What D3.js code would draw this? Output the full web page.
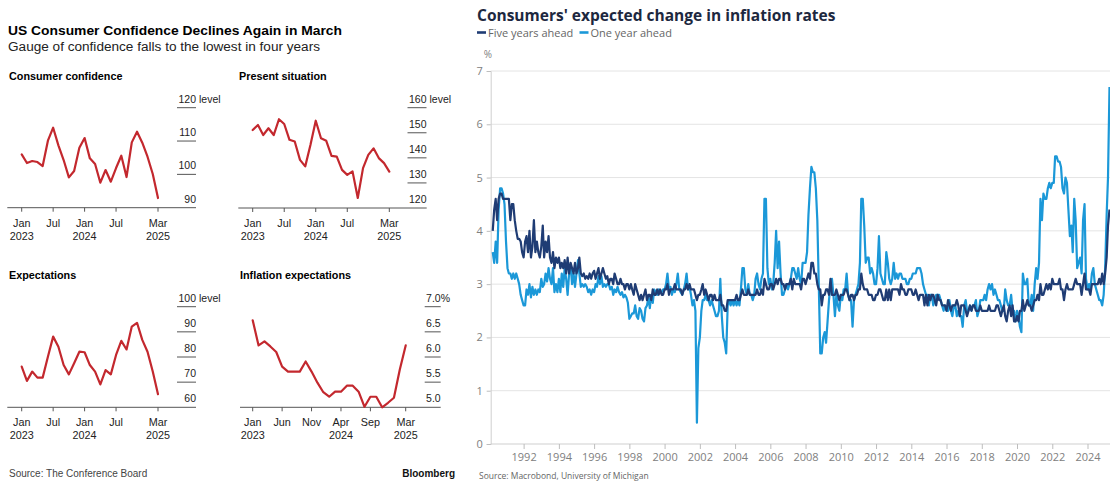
<!DOCTYPE html>
<html>
<head>
<meta charset="utf-8">
<script src="https://cdn.jsdelivr.net/npm/d3@7"></script>
<style>
  html, body { margin: 0; padding: 0; background: #fff; }
  svg { display: block; }
</style>
</head>
<body>
<svg id="chart" width="1110" height="483"></svg>
<script>
// ---------- Conference Board indexes, monthly Jan 2023 – Mar 2025 ----------
const consumerConfidence = [106.0, 103.4, 104.0, 103.7, 102.5, 110.1, 114.0, 108.7, 104.3, 99.1, 101.0, 108.0,
  110.9, 104.8, 103.1, 97.5, 101.3, 97.8, 101.9, 105.6, 99.2, 109.6, 112.8, 109.5,
  105.3, 100.1, 92.9];
const presentSituation = [151.1, 153.1, 149.1, 151.8, 149.1, 155.4, 153.5, 147.2, 146.5, 139.2, 136.6, 145.2,
  154.8, 147.8, 146.8, 140.8, 140.5, 135.2, 133.2, 134.6, 124.0, 135.9, 141.2, 143.8,
  139.9, 137.9, 134.5];
const expectations = [76.2, 70.5, 74.2, 71.8, 71.8, 80.1, 88.1, 84.1, 76.8, 73.1, 77.5, 82.1,
  81.9, 76.8, 74.2, 69.1, 74.8, 73.1, 80.8, 86.4, 83.0, 92.1, 93.6, 86.8,
  82.1, 74.2, 65.2];
const inflationExpectations = [6.73, 6.23, 6.31, 6.21, 6.10, 5.81, 5.71, 5.71, 5.71, 5.91, 5.71, 5.49,
  5.30, 5.21, 5.31, 5.31, 5.43, 5.43, 5.31, 5.01, 5.21, 5.21, 5.00, 5.09,
  5.19, 5.75, 6.23];

// x-axis ticks of the small panels (month index from Jan 2023) and their labels
const halfYearTicks = [0, 6, 12, 18, 26];
const halfYearLabels = [["Jan", "2023"], ["Jul", ""], ["Jan", "2024"], ["Jul", ""], ["Mar", "2025"]];
const fiveMonthTicks = [0, 5, 10, 15, 20, 26];
const fiveMonthLabels = [["Jan", "2023"], ["Jun", ""], ["Nov", ""], ["Apr", "2024"], ["Sep", ""], ["Mar", "2025"]];

// y-axis ticks of the small panels
const confidenceTicks = [90, 100, 110, 120];
const presentTicks = [120, 130, 140, 150, 160];
const expectationTicks = [60, 70, 80, 90, 100];
const inflationTicks = [5.0, 5.5, 6.0, 6.5, 7.0];

// ---------- University of Michigan survey, monthly from Apr 1990 to Apr 2025 ----------
const fiveYearsAhead = [
  /*1990*/ 4.0, 4.4, 4.6, 4.2, 4.6, 4.7, 4.7, 4.6, 4.6,
  /*1991*/ 4.6, 4.6, 4.6, 4.2, 4.5, 4.5, 4.2, 4.0, 3.85, 3.85, 3.8, 3.6,
  /*1992*/ 3.5, 3.8, 3.9, 3.6, 4.0, 3.5, 3.7, 4.2, 3.6, 3.8, 3.6, 3.5,
  /*1993*/ 3.7, 4.1, 3.5, 3.8, 3.6, 3.9, 3.5, 3.4, 3.6, 3.3, 3.5, 3.4,
  /*1994*/ 3.5, 3.3, 3.4, 3.3, 3.45, 3.2, 3.5, 3.2, 3.4, 3.3, 3.2, 3.4,
  /*1995*/ 3.2, 3.3, 3.5, 3.2, 3.15, 3.2, 3.1, 3.15, 3.1, 3.2, 3.1, 3.2,
  /*1996*/ 3.25, 3.1, 3.2, 3.3, 3.1, 3.2, 3.3, 3.2, 3.1, 3.15, 3.0, 3.1,
  /*1997*/ 3.1, 3.0, 3.2, 3.1, 3.0, 3.0, 3.1, 3.0, 3.0, 2.9, 3.0, 3.0,
  /*1998*/ 2.9, 3.0, 2.9, 2.8, 3.0, 2.9, 2.8, 2.7, 2.8, 2.7, 2.8, 2.9,
  /*1999*/ 2.7, 2.8, 2.8, 2.7, 2.9, 2.8, 2.8, 2.9, 2.8, 2.9, 2.8, 2.8,
  /*2000*/ 2.9, 2.9, 3.0, 2.8, 2.9, 2.9, 2.9, 3.0, 2.9, 2.9, 2.9, 2.9,
  /*2001*/ 2.8, 2.9, 2.9, 3.0, 2.9, 3.0, 2.9, 2.9, 2.9, 2.8, 2.7, 2.8,
  /*2002*/ 2.8, 2.9, 3.0, 2.8, 2.9, 2.8, 2.7, 2.8, 2.8, 2.7, 2.8, 2.7,
  /*2003*/ 2.7, 2.7, 2.8, 2.6, 2.6, 2.5, 2.5, 2.7, 2.7, 2.7, 2.7, 2.7,
  /*2004*/ 2.7, 2.8, 2.7, 2.7, 2.8, 2.9, 2.8, 2.8, 2.8, 2.9, 2.8, 2.8,
  /*2005*/ 2.8, 2.8, 2.8, 2.9, 2.8, 2.8, 2.9, 2.8, 3.1, 3.0, 2.9, 2.9,
  /*2006*/ 3.0, 3.0, 2.9, 3.0, 3.1, 3.0, 3.1, 3.1, 3.0, 3.0, 2.9, 3.0,
  /*2007*/ 3.0, 3.0, 3.1, 2.9, 3.1, 3.0, 3.0, 3.0, 3.0, 2.9, 3.1, 3.1,
  /*2008*/ 3.0, 3.1, 3.2, 3.1, 3.4, 3.4, 3.2, 3.2, 3.0, 2.9, 2.9, 2.6,
  /*2009*/ 2.8, 2.8, 2.9, 2.9, 2.8, 3.1, 2.8, 2.8, 2.8, 2.9, 2.8, 2.7,
  /*2010*/ 2.8, 2.8, 2.8, 2.9, 2.9, 2.8, 2.7, 2.8, 2.8, 2.7, 2.8, 2.8,
  /*2011*/ 2.9, 2.9, 3.2, 3.0, 2.9, 2.9, 2.9, 2.8, 2.8, 2.8, 2.7, 2.7,
  /*2012*/ 2.8, 2.8, 2.9, 2.9, 2.8, 2.7, 2.7, 2.9, 2.7, 2.9, 2.7, 2.9,
  /*2013*/ 2.9, 2.9, 2.9, 2.9, 2.8, 3.0, 2.9, 2.9, 2.8, 2.8, 2.9, 2.9,
  /*2014*/ 2.9, 2.8, 2.8, 2.9, 2.8, 2.7, 2.8, 2.8, 2.8, 2.6, 2.8, 2.6,
  /*2015*/ 2.8, 2.7, 2.8, 2.8, 2.7, 2.6, 2.8, 2.7, 2.7, 2.6, 2.6, 2.6,
  /*2016*/ 2.5, 2.7, 2.6, 2.5, 2.6, 2.6, 2.6, 2.7, 2.6, 2.4, 2.6, 2.6,
  /*2017*/ 2.6, 2.5, 2.4, 2.5, 2.6, 2.5, 2.6, 2.6, 2.5, 2.5, 2.5, 2.6,
  /*2018*/ 2.5, 2.5, 2.5, 2.5, 2.5, 2.6, 2.5, 2.5, 2.5, 2.5, 2.6, 2.6,
  /*2019*/ 2.5, 2.4, 2.5, 2.6, 2.4, 2.3, 2.5, 2.6, 2.4, 2.6, 2.3, 2.3,
  /*2020*/ 2.4, 2.3, 2.5, 2.5, 2.7, 2.5, 2.6, 2.7, 2.6, 2.6, 2.5, 2.6,
  /*2021*/ 2.7, 2.7, 2.8, 2.7, 3.0, 2.8, 2.8, 2.9, 3.0, 2.9, 3.0, 2.9,
  /*2022*/ 3.1, 3.0, 3.0, 3.0, 3.0, 3.1, 2.9, 2.9, 2.7, 2.9, 3.0, 2.9,
  /*2023*/ 2.9, 2.9, 2.9, 3.0, 3.1, 3.0, 3.0, 3.0, 2.8, 3.0, 3.2, 2.9,
  /*2024*/ 2.9, 2.9, 2.8, 3.0, 3.0, 3.0, 3.0, 3.0, 3.1, 3.0, 3.2, 3.0,
  /*2025*/ 3.2, 3.5, 4.1, 4.4
];
const oneYearAhead = [
  /*1990*/ 3.6, 3.4, 3.8, 3.4, 4.4, 4.8, 4.8, 4.7, 4.5,
  /*1991*/ 3.8, 3.3, 3.2, 3.2, 3.1, 3.2, 3.1, 3.2, 3.1, 3.0, 2.8, 2.7,
  /*1992*/ 2.6, 2.6, 2.9, 2.8, 3.0, 2.75, 2.95, 2.8, 2.9, 2.8, 2.9, 2.85,
  /*1993*/ 3.1, 2.95, 3.0, 3.2, 3.05, 3.3, 3.1, 3.0, 3.3, 2.85, 3.0, 2.85,
  /*1994*/ 3.1, 2.85, 3.2, 2.95, 3.3, 3.1, 2.8, 3.2, 3.35, 3.0, 3.2, 2.95,
  /*1995*/ 3.2, 3.45, 3.2, 2.95, 3.0, 2.95, 3.0, 2.95, 2.85, 2.9, 2.8, 2.9,
  /*1996*/ 2.85, 3.0, 2.95, 3.15, 3.0, 3.15, 2.95, 3.0, 2.95, 3.0, 3.0, 2.9,
  /*1997*/ 2.95, 2.8, 2.9, 2.85, 2.95, 2.85, 2.8, 2.85, 2.75, 2.8, 2.75, 2.65,
  /*1998*/ 2.35, 2.4, 2.45, 2.45, 2.6, 2.4, 2.35, 2.55, 2.5, 2.35, 2.3, 2.55,
  /*1999*/ 2.6, 2.75, 2.55, 2.8, 2.65, 2.9, 2.85, 2.8, 2.9, 2.85, 2.85, 2.9,
  /*2000*/ 2.9, 3.0, 3.2, 2.9, 2.95, 2.8, 2.9, 2.85, 3.0, 3.2, 2.9, 2.85,
  /*2001*/ 2.8, 2.9, 3.0, 3.2, 2.9, 2.95, 2.8, 2.6, 2.7, 2.5, 0.4, 1.8,
  /*2002*/ 2.0, 2.5, 2.7, 2.7, 2.8, 2.7, 2.7, 2.6, 2.7, 2.6, 2.5, 2.4,
  /*2003*/ 2.4, 2.5, 3.1, 2.4, 2.0, 1.9, 1.7, 2.6, 2.7, 2.6, 2.7, 2.6,
  /*2004*/ 2.7, 2.6, 2.7, 2.6, 2.9, 3.3, 3.3, 2.9, 2.8, 3.0, 2.8, 2.8,
  /*2005*/ 2.7, 2.8, 3.1, 3.2, 3.0, 2.9, 3.1, 3.2, 4.6, 4.6, 3.3, 3.0,
  /*2006*/ 3.1, 2.9, 3.0, 3.4, 4.0, 3.3, 3.8, 3.2, 2.8, 2.8, 2.9, 3.0,
  /*2007*/ 2.9, 3.0, 3.1, 3.3, 3.3, 3.2, 3.1, 3.3, 3.1, 3.0, 3.4, 3.4,
  /*2008*/ 3.4, 3.6, 4.3, 4.8, 5.2, 5.1, 5.1, 4.8, 4.2, 3.0, 1.7, 1.7,
  /*2009*/ 2.0, 2.1, 1.9, 2.3, 2.7, 3.0, 3.1, 2.8, 2.4, 2.8, 2.6, 2.5,
  /*2010*/ 2.8, 2.7, 2.9, 2.9, 3.2, 2.8, 2.7, 2.7, 2.2, 2.7, 2.8, 2.9,
  /*2011*/ 3.0, 3.4, 4.6, 4.6, 4.1, 3.4, 3.5, 3.5, 3.2, 3.3, 3.2, 3.0,
  /*2012*/ 3.0, 3.3, 3.9, 3.2, 3.1, 3.0, 3.0, 3.6, 3.4, 3.1, 3.0, 3.1,
  /*2013*/ 3.4, 3.1, 3.2, 3.1, 3.2, 3.2, 3.1, 3.1, 3.1, 3.0, 3.0, 3.1,
  /*2014*/ 3.1, 3.2, 3.2, 3.2, 3.3, 3.3, 3.3, 3.2, 3.0, 2.9, 2.8, 2.8,
  /*2015*/ 2.6, 2.8, 2.8, 2.6, 2.7, 2.8, 2.8, 2.8, 2.7, 2.6, 2.5, 2.6,
  /*2016*/ 2.5, 2.5, 2.7, 2.5, 2.4, 2.6, 2.6, 2.4, 2.5, 2.4, 2.4, 2.2,
  /*2017*/ 2.6, 2.7, 2.5, 2.5, 2.6, 2.5, 2.6, 2.6, 2.7, 2.4, 2.5, 2.7,
  /*2018*/ 2.7, 2.7, 2.8, 2.7, 2.9, 3.0, 2.9, 3.0, 2.8, 2.9, 2.8, 2.7,
  /*2019*/ 2.7, 2.6, 2.5, 2.5, 2.9, 2.7, 2.6, 2.6, 2.8, 2.5, 2.5, 2.3,
  /*2020*/ 2.5, 2.4, 2.2, 2.1, 3.2, 3.0, 3.0, 3.1, 2.6, 2.6, 2.8, 2.5,
  /*2021*/ 3.0, 3.3, 3.1, 3.4, 4.6, 4.2, 4.7, 4.6, 4.6, 4.8, 4.9, 4.8,
  /*2022*/ 4.9, 4.9, 5.4, 5.4, 5.3, 5.3, 5.2, 4.8, 4.7, 5.0, 4.9, 4.4,
  /*2023*/ 3.9, 4.1, 3.6, 4.6, 4.2, 3.3, 3.4, 3.5, 3.2, 4.2, 4.5, 3.1,
  /*2024*/ 2.9, 3.0, 2.9, 3.2, 3.3, 3.0, 2.9, 2.8, 2.7, 2.7, 2.6, 2.8,
  /*2025*/ 3.3, 4.3, 5.0, 6.7
];
const surveyDates = oneYearAhead.map((_, i) => new Date(1990, 3 + i, 1));
const surveyYTicks = [0, 1, 2, 3, 4, 5, 6, 7];
const surveyXTicks = d3.range(1992, 2025, 2).map(y => new Date(y, 0, 1));

// ---------- styling ----------
const svg = d3.select("#chart");
const RED = "#c3282e";
const NAVY = "#1f3c74";
const SKY = "#1b98d8";
const FONT_L = "'Liberation Sans', Arial, sans-serif";
const FONT_R = "'Open Sans', 'Noto Sans', sans-serif";

// ======================= left: Bloomberg small multiples =======================
const left = svg.append("g").attr("font-family", FONT_L);

left.append("text").attr("x", 8).attr("y", 35)
  .attr("font-size", 13.5).attr("font-weight", 700).attr("fill", "#000")
  .attr("textLength", 334).attr("lengthAdjust", "spacingAndGlyphs")
  .text("US Consumer Confidence Declines Again in March");
left.append("text").attr("x", 8).attr("y", 51)
  .attr("font-size", 12.5).attr("fill", "#222")
  .attr("textLength", 312).attr("lengthAdjust", "spacingAndGlyphs")
  .text("Gauge of confidence falls to the lowest in four years");

const panels = [
  { title: "Consumer confidence", values: consumerConfidence, ticks: confidenceTicks, unit: "level",
    fmt: d3.format("d"), domain: [90, 120], tx: 9, ty: 80, ax0: 7.3, ax1: 196, xa: 21.7, xb: 158,
    yTop: 107.7, yBot: 207.7, lx: 196, dash: 19, xTicks: halfYearTicks, xLabels: halfYearLabels },
  { title: "Present situation", values: presentSituation, ticks: presentTicks, unit: "level",
    fmt: d3.format("d"), domain: [120, 160], tx: 239, ty: 80, ax0: 238.3, ax1: 426.7, xa: 252.7, xb: 389.3,
    yTop: 107.7, yBot: 208, lx: 426.5, dash: 19, xTicks: halfYearTicks, xLabels: halfYearLabels },
  { title: "Expectations", values: expectations, ticks: expectationTicks, unit: "level",
    fmt: d3.format("d"), domain: [60, 100], tx: 9, ty: 279, ax0: 7.3, ax1: 196, xa: 21.7, xb: 158,
    yTop: 306.7, yBot: 407.3, lx: 196, dash: 19, xTicks: halfYearTicks, xLabels: halfYearLabels },
  { title: "Inflation expectations", values: inflationExpectations, ticks: inflationTicks, unit: "%",
    fmt: d3.format(".1f"), domain: [5, 7], tx: 240, ty: 279, ax0: 240, ax1: 440.7, xa: 252.7, xb: 405.7,
    yTop: 306.7, yBot: 407.3, lx: 440.7, dash: 16, xTicks: fiveMonthTicks, xLabels: fiveMonthLabels }
];

panels.forEach(p => {
  const g = left.append("g");
  const x = d3.scaleLinear().domain([0, p.values.length - 1]).range([p.xa, p.xb]);
  const y = d3.scaleLinear().domain(p.domain).range([p.yBot, p.yTop]);

  g.append("text").attr("x", p.tx).attr("y", p.ty)
    .attr("font-size", 10.8).attr("font-weight", 700).attr("fill", "#000").text(p.title);

  // value scale on the right: short rules with the label sitting above each
  p.ticks.forEach((t, i) => {
    if (i > 0) {
      g.append("line").attr("x1", p.lx - p.dash).attr("x2", p.lx)
        .attr("y1", y(t)).attr("y2", y(t)).attr("stroke", "#555").attr("stroke-width", 1);
    }
    g.append("text").attr("x", p.lx).attr("y", y(t) - 5)
      .attr("font-size", 10.5).attr("fill", "#222").attr("text-anchor", "end").text(p.fmt(t));
    if (i === p.ticks.length - 1) {
      g.append("text").attr("x", p.lx + (p.unit === "%" ? 0 : 3)).attr("y", y(t) - 5)
        .attr("font-size", 10.5).attr("fill", "#222").text(p.unit);
    }
  });

  // baseline and month ticks
  g.append("line").attr("x1", p.ax0).attr("x2", p.ax1)
    .attr("y1", p.yBot).attr("y2", p.yBot).attr("stroke", "#555").attr("stroke-width", 1);
  p.xTicks.forEach((m, i) => {
    g.append("line").attr("x1", x(m)).attr("x2", x(m))
      .attr("y1", p.yBot).attr("y2", p.yBot + 4).attr("stroke", "#555").attr("stroke-width", 1);
    const [mon, yr] = p.xLabels[i];
    g.append("text").attr("x", x(m)).attr("y", p.yBot + 19).attr("text-anchor", "middle")
      .attr("font-size", 10.8).attr("fill", "#222").text(mon);
    if (yr) {
      g.append("text").attr("x", x(m)).attr("y", p.yBot + 32).attr("text-anchor", "middle")
        .attr("font-size", 10.8).attr("fill", "#222").text(yr);
    }
  });

  g.append("path").datum(p.values)
    .attr("fill", "none").attr("stroke", RED).attr("stroke-width", 2.2)
    .attr("stroke-linejoin", "round").attr("stroke-linecap", "round")
    .attr("d", d3.line().x((d, i) => x(i)).y(d => y(d)));
});

left.append("text").attr("x", 9).attr("y", 477)
  .attr("font-size", 10).attr("fill", "#444").text("Source: The Conference Board");
left.append("text").attr("x", 455).attr("y", 477).attr("text-anchor", "end")
  .attr("font-size", 10).attr("font-weight", 700).attr("fill", "#111").text("Bloomberg");

// ======================= right: Michigan survey =======================
const right = svg.append("g").attr("font-family", FONT_R);
const xR = d3.scaleTime().domain([new Date(1990, 0, 1), new Date(2025, 3, 1)]).range([488.4, 1109.5]);
const yR = d3.scaleLinear().domain([0, 7]).range([444, 71]);
const plotLeft = 490.7, plotRight = 1110;

right.append("text").attr("x", 477).attr("y", 21)
  .attr("font-size", 15.5).attr("font-weight", 700).attr("fill", "#1d2840")
  .text("Consumers' expected change in inflation rates");

// legend
const legend = [{ name: "Five years ahead", color: NAVY, x: 477 }, { name: "One year ahead", color: SKY, x: 579.5 }];
legend.forEach(l => {
  right.append("line").attr("x1", l.x).attr("x2", l.x + 9).attr("y1", 32.5).attr("y2", 32.5)
    .attr("stroke", l.color).attr("stroke-width", 2.6);
  right.append("text").attr("x", l.x + 11).attr("y", 36.5)
    .attr("font-size", 11).attr("fill", "#666").text(l.name);
});

// gridlines
right.append("g").selectAll("line").data(surveyYTicks.filter(v => v > 0)).join("line")
  .attr("x1", plotLeft).attr("x2", plotRight).attr("y1", d => yR(d)).attr("y2", d => yR(d))
  .attr("stroke", "#e4e4e4").attr("stroke-width", 1);

// y axis
const yAxis = right.append("g").attr("transform", `translate(${plotLeft},0)`)
  .call(d3.axisLeft(yR).tickValues(surveyYTicks).tickSize(4).tickPadding(4).tickFormat(d3.format("d")));
yAxis.select(".domain").attr("stroke", "#cfcfcf");
yAxis.selectAll(".tick line").attr("stroke", "#bdbdbd");
yAxis.selectAll(".tick text").attr("fill", "#808080").attr("font-size", 11).attr("font-family", FONT_R);
right.append("text").attr("x", 488).attr("y", 58).attr("text-anchor", "middle")
  .attr("font-size", 10).attr("fill", "#808080").text("%");

// x axis
const xAxis = right.append("g").attr("transform", "translate(0,444)")
  .call(d3.axisBottom(xR).tickValues(surveyXTicks).tickSize(5).tickPadding(4).tickFormat(d3.timeFormat("%Y")));
xAxis.select(".domain").attr("stroke", "#cfcfcf").attr("d", `M${plotLeft},0H${plotRight}`);
xAxis.selectAll(".tick line").attr("stroke", "#bdbdbd");
xAxis.selectAll(".tick text").attr("fill", "#808080").attr("font-size", 11).attr("font-family", FONT_R);

// series
const lineR = d3.line().x((d, i) => xR(surveyDates[i])).y(d => yR(d));
right.append("path").datum(oneYearAhead)
  .attr("fill", "none").attr("stroke", SKY).attr("stroke-width", 2.2)
  .attr("stroke-linejoin", "round").attr("d", lineR);
right.append("path").datum(fiveYearsAhead)
  .attr("fill", "none").attr("stroke", NAVY).attr("stroke-width", 2.2)
  .attr("stroke-linejoin", "round").attr("d", lineR);

right.append("text").attr("x", 479).attr("y", 479)
  .attr("font-size", 8.5).attr("fill", "#666").text("Source: Macrobond, University of Michigan");
</script>
</body>
</html>
